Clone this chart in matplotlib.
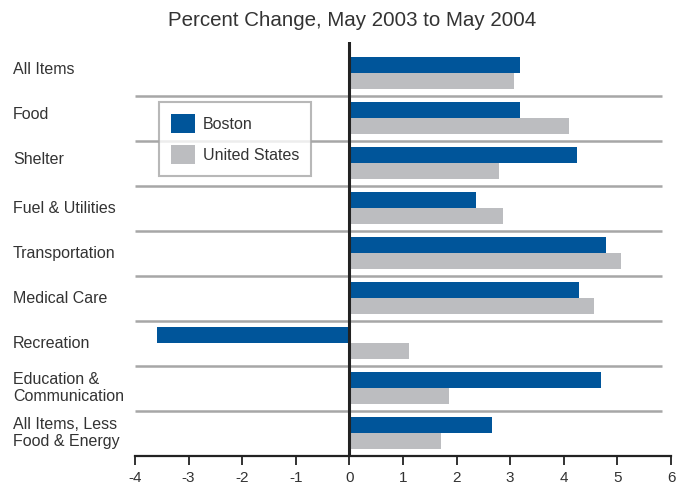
import numpy as np
import matplotlib
matplotlib.use("Agg")
import matplotlib.pyplot as plt

# Data
categories = ["All Items", "Food", "Shelter", "Fuel & Utilities", "Transportation",
              "Medical Care", "Recreation", "Education &\nCommunication",
              "All Items, Less\nFood & Energy"]
boston = [3.18, 3.18, 4.24, 2.36, 4.78, 4.28, -3.59, 4.70, 2.66]
united_states = [3.07, 4.09, 2.79, 2.86, 5.06, 4.57, 1.11, 1.86, 1.71]
xticks = [-4, -3, -2, -1, 0, 1, 2, 3, 4, 5, 6]

blue = "#00559a"
grey = "#bcbdc0"
text_col = "#333333"

plt.rcParams['font.family'] = ['Liberation Sans', 'DejaVu Sans']

fig = plt.figure(figsize=(6.89, 4.87), dpi=100)
ax = fig.add_axes([135 / 689, 1 - 456 / 487, 536 / 689, 414 / 487])

y = np.arange(len(categories))
h = 0.36
ax.barh(y - 0.18, boston, height=h, color=blue, label="Boston", zorder=3)
ax.barh(y + 0.18, united_states, height=h, color=grey, label="United States", zorder=3)

# separator lines between categories
for yy in y[:-1] + 0.5:
    ax.plot([-4, 5.84], [yy, yy], color="#a7a7a7", lw=1.8, zorder=1, solid_capstyle="butt")

# zero line
ax.axvline(0, color="#222222", lw=2.2, zorder=4)

ax.set_xlim(-4, 6)
ax.set_ylim(8.51, -0.69)
ax.set_xticks(xticks)
ax.set_xticklabels([str(t) for t in xticks], fontsize=11, color=text_col)
ax.set_yticks([])
for s in ["top", "right", "left"]:
    ax.spines[s].set_visible(False)
ax.spines["bottom"].set_color("#222222")
ax.spines["bottom"].set_linewidth(1.6)
ax.tick_params(axis="x", direction="out", length=6.5, width=1.3, color="#222222", pad=4)

# category labels on the left
trans = matplotlib.transforms.blended_transform_factory(fig.transFigure, ax.transData)
for i, c in enumerate(categories):
    ax.text(13 / 689, i - (0.08 if i < 3 else 0), c, transform=trans,
            ha="left", va="center", fontsize=11.5, color=text_col, linespacing=1.1)

fig.text(352 / 689, 1 - 20 / 487, "Percent Change, May 2003 to May 2004",
         ha="center", va="center", fontsize=14.8, color=text_col)

leg = ax.legend(loc="upper left", bbox_to_anchor=(159 / 689, 1 - 102 / 487),
                bbox_transform=fig.transFigure, fontsize=11.5, frameon=True, fancybox=False,
                edgecolor="#a7a7a7", handlelength=1.5, handleheight=1.45,
                labelspacing=0.78, borderpad=0.75, handletextpad=0.5, borderaxespad=0)
leg.get_frame().set_linewidth(1.5)
leg.set_zorder(5)
for t in leg.get_texts():
    t.set_color(text_col)

fig.savefig("out.png", dpi=100)
